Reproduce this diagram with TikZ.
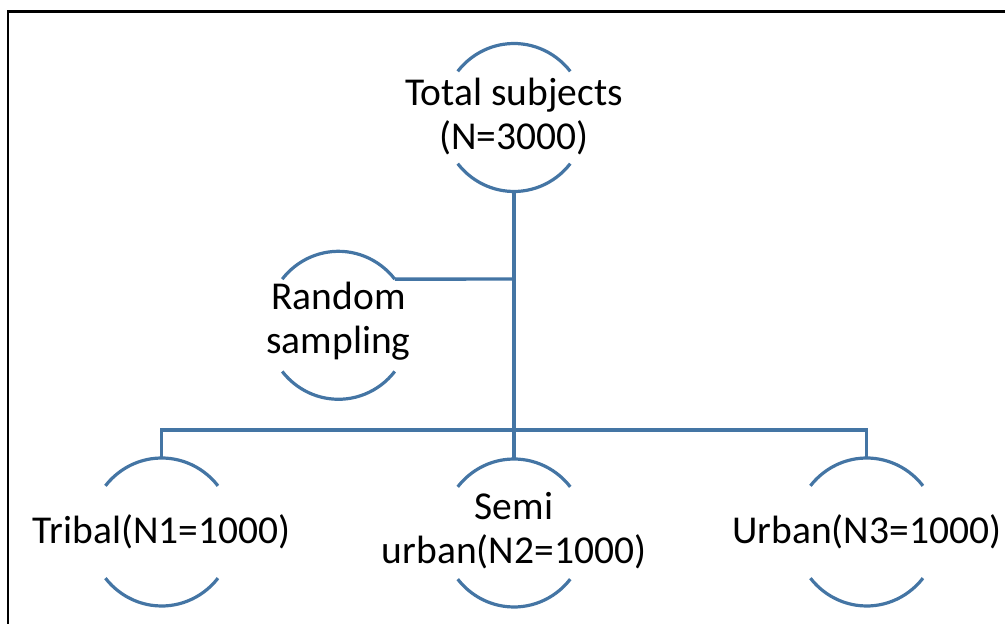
\documentclass[tikz,border=0pt]{standalone}
\usepackage{fontspec}
\setmainfont{Carlito}
\usetikzlibrary{shapes.geometric}
\definecolor{smblue}{RGB}{68,117,164}
\newcommand\hemiarcs[1]{%
  \draw[arcline] ([shift={(38.6:72pt and 74pt)}]#1.center) arc[start angle=38.6,end angle=141.4,x radius=72pt,y radius=74pt];
  \draw[arcline] ([shift={(-38.6:72pt and 74pt)}]#1.center) arc[start angle=-38.6,end angle=-141.4,x radius=72pt,y radius=74pt];}
\tikzset{
  blob/.style={ellipse,draw=none,inner sep=0pt,minimum width=144pt,minimum height=148pt},
  arcline/.style={draw=smblue,line width=3.2pt},
  conn/.style={draw=smblue,line width=3.4pt},
  trunk/.style={draw=smblue,line width=4.4pt},
  txt/.style={align=center,inner sep=0pt,text=black,font=\fontsize{39.5pt}{44pt}\selectfont},
  frame/.style={draw=black,line width=2.2pt}
}
\begin{document}
\begin{tikzpicture}[x=1pt,y=1pt]
\useasboundingbox (0,0) rectangle (1005,624);
\draw[frame] (8.3,-20) |- (1030,612.5);
% shapes
\node[blob] (tot) at (514,506.5) {};
\node[blob] (rnd) at (338.5,298.7) {};
\node[blob] (tri) at (161.7,92) {};
\node[blob] (semi) at (514,91) {};
\node[blob] (urb) at (866.7,92) {};
\hemiarcs{tot}
\hemiarcs{rnd}
\hemiarcs{tri}
\hemiarcs{semi}
\hemiarcs{urb}
% texts (base = baseline of the last line)
\node[txt,anchor=base] (totT) at (514,474) {Total subjects\\(N=3000)};
\node[txt,anchor=base] (rndT) at (338.5,270) {Random\\sampling};
\node[txt,anchor=base] (triT) at (161.7,80.7) {Tribal(N1=1000)};
\node[txt,anchor=base] (semiT) at (514,60) {Semi\\urban(N2=1000)};
\node[txt,anchor=base] (urbT) at (866.7,80.7) {Urban(N3=1000)};
% connectors
\coordinate (j1) at (514,345);
\coordinate (j2) at (514,194);
\draw[trunk] (tot.south) -- (j2);
\draw[conn] ([shift={(38.6:72pt and 74pt)}]rnd.center) -- (j1);
\draw[conn] (tri.north) -- (tri.north |- j2) -| (urb.north);
\draw[conn] (j2) -- (semi.north);
\end{tikzpicture}
\end{document}
